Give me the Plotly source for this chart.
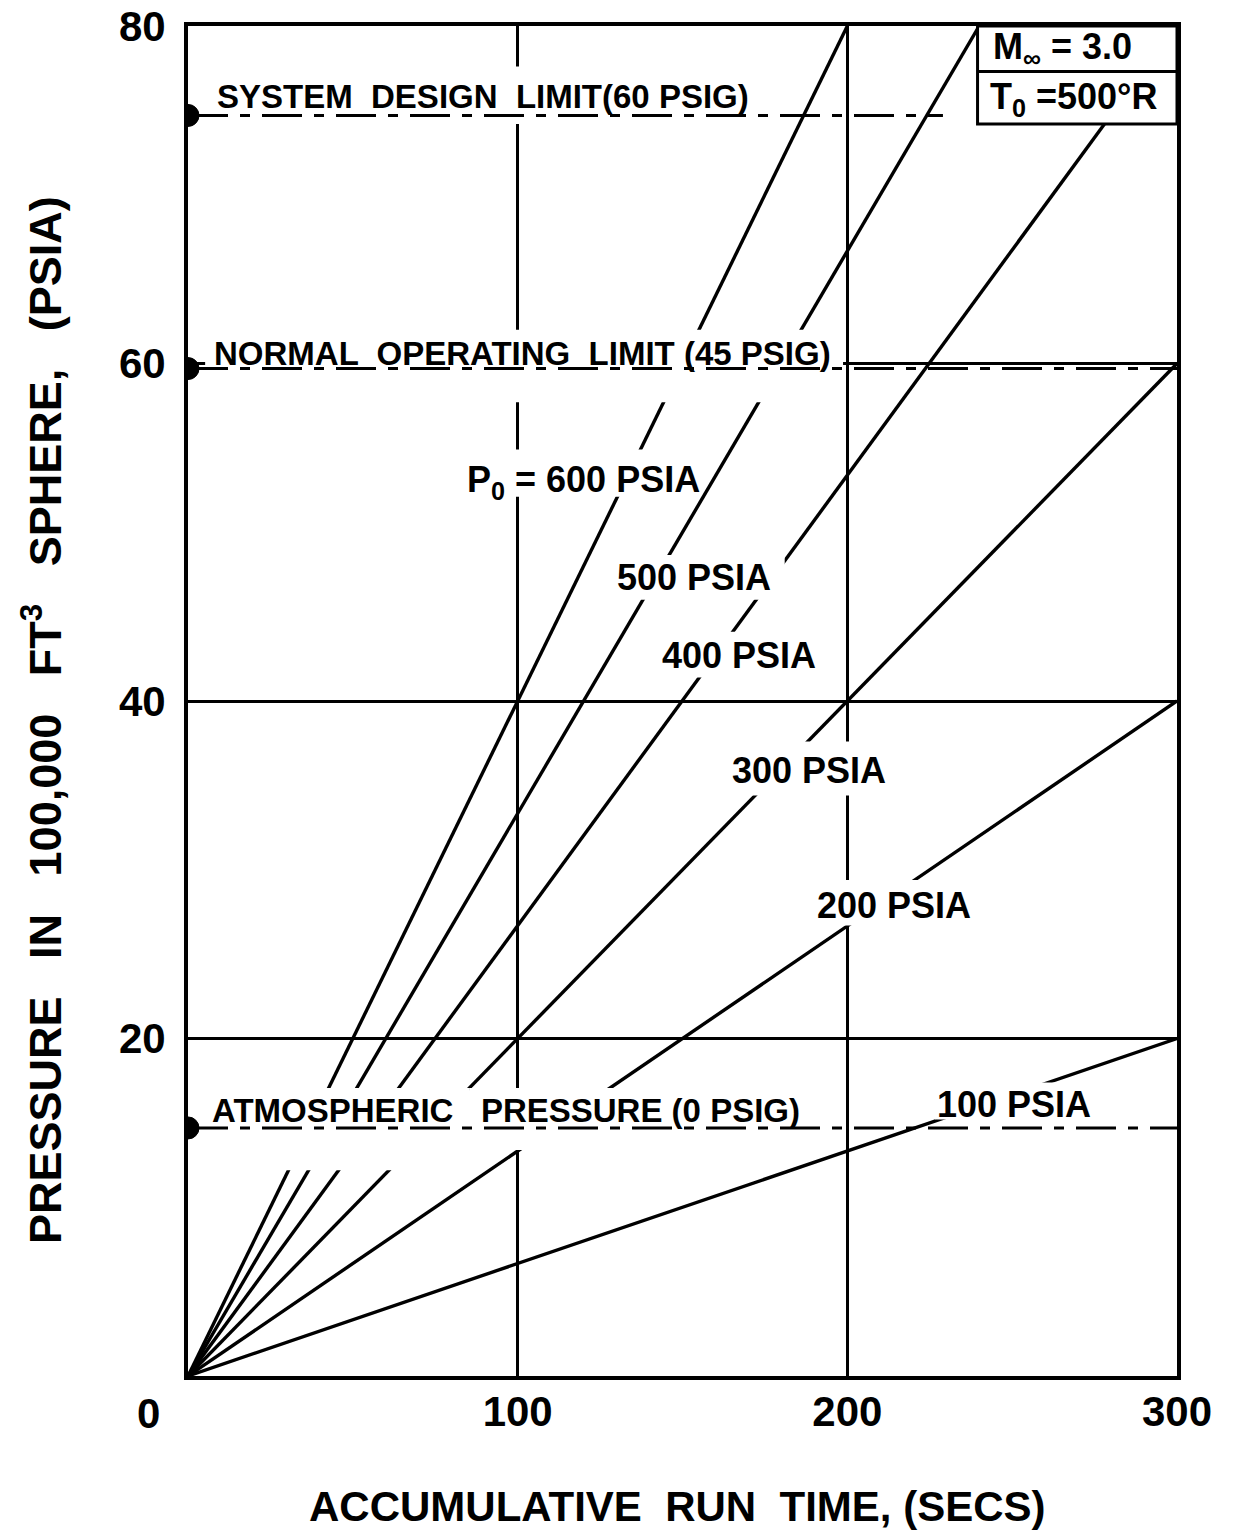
import plotly.graph_objects as go

# ---- data -------------------------------------------------------------
# Supply stagnation pressure for each run line (psia)
supply_psia = [600, 500, 400, 300, 200, 100]
# End point of each run line: accumulated run time (s) and sphere pressure (psia)
end_time = [200, 240, 278, 300, 300, 300]
end_pressure = [80, 80, 74.2, 60, 40, 20]
# Labels drawn next to each run line
line_labels = ["P<sub>0</sub> = 600 PSIA", "500 PSIA", "400 PSIA",
               "300 PSIA", "200 PSIA", "100 PSIA"]

# Reference pressure levels in the sphere (psia)
limit_psia = [74.7, 59.7, 14.7]
limit_labels = ["SYSTEM  DESIGN  LIMIT(60 PSIG)",
                "NORMAL  OPERATING  LIMIT (45 PSIG)",
                "ATMOSPHERIC   PRESSURE (0 PSIG)"]

x_ticks = [100, 200, 300]
x_tick_text = ["100", "200", "300"]
y_ticks = [20, 40, 60, 80]
y_tick_text = ["20", "40", "60", "80"]

# ---- styling ----------------------------------------------------------
INK = "black"
FONT = "Liberation Sans, Arial, sans-serif"

fig = go.Figure()

for t, p, ps in zip(end_time, end_pressure, supply_psia):
    fig.add_trace(go.Scatter(
        x=[0, t], y=[0, p], mode="lines", name=f"{ps} PSIA",
        line=dict(color=INK, width=3.4), showlegend=False, hoverinfo="skip"))

shapes = []

# white knock-outs so the lettering sits in clean gaps of the lines
label_gaps = [
    (5.6, 182.5, 74.2, 77.6),    # system design limit
    (5.2, 198.7, 57.7, 62.0),    # normal operating limit
    (88.0, 155.0, 52.1, 54.9),   # P0 = 600
    (128.0, 181.0, 46.0, 48.65), # 500
    (141.6, 192.3, 41.4, 44.1),  # 400
    (163.0, 212.0, 34.4, 37.6),  # 300
    (188.7, 237.8, 26.7, 29.4),  # 200
    (226.6, 275.0, 15.2, 17.4),  # 100
    (3.6, 85.5, 12.2, 17.07),    # atmospheric (left part)
    (85.5, 190.2, 13.4, 17.07),  # atmospheric (right part)
]
for x0, x1, y0, y1 in label_gaps:
    shapes.append(dict(type="rect", xref="x", yref="y", x0=x0, x1=x1,
                       y0=y0, y1=y1, fillcolor="white",
                       line=dict(width=0), layer="above"))

# dash-dot reference levels
limit_extent = [229, 300, 300]
for lvl, xe in zip(limit_psia, limit_extent):
    shapes.append(dict(type="line", xref="x", yref="y", x0=0, x1=xe,
                       y0=lvl, y1=lvl, layer="above",
                       line=dict(color=INK, width=3,
                                 dash="40px,12px,10px,12px")))
    shapes.append(dict(type="circle", xref="x", yref="y",
                       xsizemode="pixel", ysizemode="pixel",
                       xanchor=0, yanchor=lvl, x0=-11, x1=11, y0=-11, y1=11,
                       fillcolor=INK, line=dict(color=INK, width=1),
                       layer="above"))

# condition box in the upper-right corner
shapes.append(dict(type="rect", xref="x", yref="y", x0=239.5, x1=300,
                   y0=74.2, y1=80, fillcolor="white",
                   line=dict(color=INK, width=3), layer="above"))
shapes.append(dict(type="line", xref="x", yref="y", x0=239.5, x1=300,
                   y0=77.3, y1=77.3, line=dict(color=INK, width=3),
                   layer="above"))

annotations = []
label_font = dict(family=FONT, size=33, color=INK, weight="bold")
line_font = dict(family=FONT, size=36, color=INK, weight="bold")
box_font = dict(family=FONT, size=36, color=INK, weight="bold")

limit_label_pos = [(8.2, 75.85), (7.3, 60.6), (6.7, 15.76)]
for (lx, ly), txt in zip(limit_label_pos, limit_labels):
    annotations.append(dict(x=lx, y=ly, xref="x", yref="y", text=txt,
                            showarrow=False, xanchor="left",
                            yanchor="middle", font=label_font))

line_label_pos = [(84.0, 53.0), (129.5, 47.3), (143.2, 42.7),
                  (164.4, 35.9), (190.2, 27.9), (226.6, 16.06)]
for (lx, ly), txt in zip(line_label_pos, line_labels):
    annotations.append(dict(x=lx, y=ly, xref="x", yref="y", text=txt,
                            showarrow=False, xanchor="left",
                            yanchor="middle", font=line_font))

annotations += [
    dict(x=243.5, y=78.65, xref="x", yref="y", text="M<sub>∞</sub> = 3.0",
         showarrow=False, xanchor="left", yanchor="middle", font=box_font),
    dict(x=242.6, y=75.7, xref="x", yref="y", text="T<sub>0</sub> =500°R",
         showarrow=False, xanchor="left", yanchor="middle", font=box_font),
    # shared origin label
    dict(x=0, y=0, xref="x", yref="y", text="0", showarrow=False,
         xanchor="center", yanchor="top", xshift=-40, yshift=-12,
         font=dict(family=FONT, size=42, color=INK, weight="bold")),
    # axis titles
    dict(x=0.5, y=0, xref="paper", yref="paper",
         text="ACCUMULATIVE  RUN  TIME, (SECS)", showarrow=False,
         xanchor="center", yanchor="middle", yshift=-130, xshift=-5,
         font=dict(family=FONT, size=42, color=INK, weight="bold")),
    dict(x=0, y=0.5, xref="paper", yref="paper",
         text="PRESSURE   IN   100,000   FT<sup>3</sup>   SPHERE,   (PSIA)",
         showarrow=False, textangle=-90, xanchor="center", yanchor="middle",
         xshift=-146, yshift=-19,
         font=dict(family=FONT, size=45, color=INK, weight="bold")),
]

axis_common = dict(showline=True, linecolor=INK, linewidth=4, mirror=True,
                   showgrid=True, gridcolor=INK, gridwidth=2.5,
                   zeroline=False, ticks="", automargin=False,
                   tickfont=dict(family=FONT, size=42, color=INK,
                                 weight="bold"))

fig.update_layout(
    width=1233, height=1530,
    margin=dict(l=188, r=56, t=26, b=154),
    paper_bgcolor="white", plot_bgcolor="white",
    xaxis=dict(range=[0, 300], tickvals=x_ticks, ticktext=x_tick_text,
               ticklabelstandoff=-4, **axis_common),
    yaxis=dict(range=[0, 80], tickvals=y_ticks, ticktext=y_tick_text,
               ticklabelstandoff=10, **axis_common),
    shapes=shapes, annotations=annotations, showlegend=False,
)

fig.write_html("out.html")
